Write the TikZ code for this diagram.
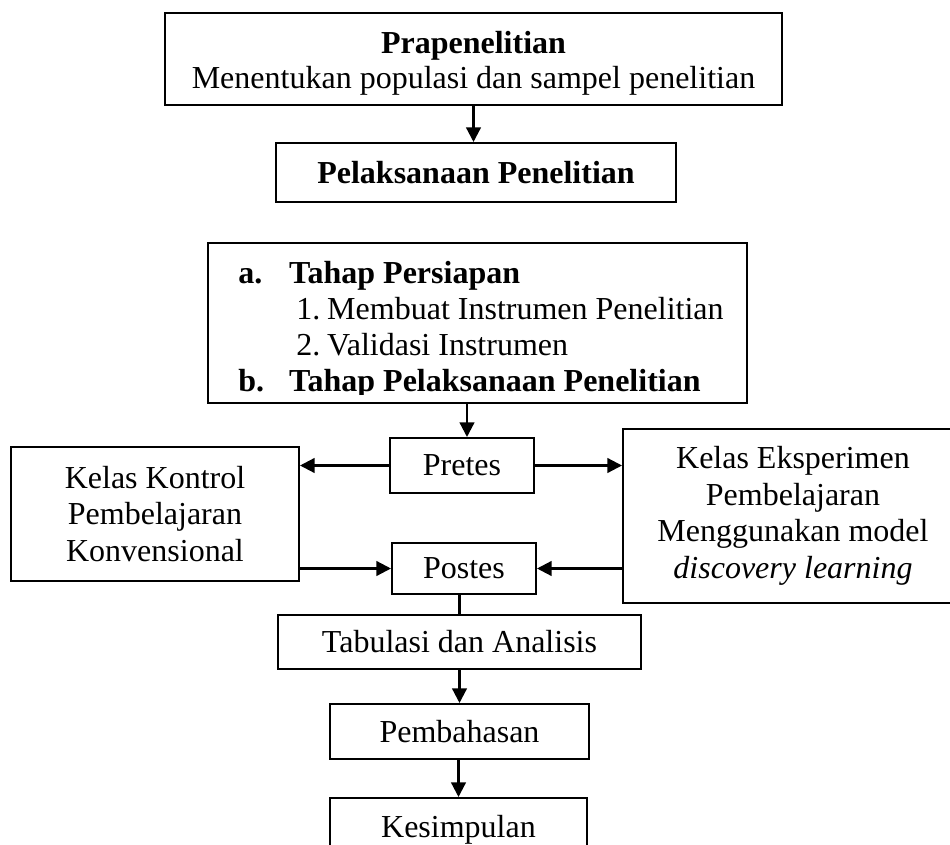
\documentclass[tikz,border=0pt]{standalone}
\usepackage{fontspec}
\setmainfont{Liberation Serif}
\usetikzlibrary{arrows.meta}
\tikzset{
  box/.style={draw=black, line width=1.5pt, rectangle, inner sep=0pt, align=center,
    font=\fontsize{24}{27.4}\selectfont},
  arr/.style={line width=1.7pt, -{Triangle[length=11pt,width=11pt]}},
  plain/.style={line width=1.7pt},
}
\begin{document}
\begin{tikzpicture}[x=0.75pt, y=-0.75pt]
\clip (0,0) rectangle (950,845);
% boxes (pixel coordinates of the reference)
\node[box, minimum width=617*0.75pt, minimum height=92*0.75pt,
      font=\fontsize{24}{26.3}\selectfont] (pra) at (473.5,59)
  {\rule{0pt}{22.5pt}\textbf{Prapenelitian}\\Menentukan populasi dan sampel penelitian};
\node[box, minimum width=400*0.75pt, minimum height=59*0.75pt] (pel) at (476,172.5)
  {\textbf{Pelaksanaan Penelitian}};
\node[box, minimum width=539*0.75pt, minimum height=160*0.75pt] (tahap) at (477.5,323) {};
\begin{scope}
  \clip (208,243) rectangle (747,394);
  \node[anchor=base west, inner sep=0pt, font=\fontsize{24}{27.2}\selectfont] (tahaptxt) at (238,283)
   {\vtop{%
     \hbox{\makebox[38.25pt][l]{\textbf{a.}}\textbf{Tahap Persiapan}}
     \hbox{\hspace{43.5pt}\makebox[23.25pt][l]{1.}Membuat Instrumen Penelitian}
     \hbox{\hspace{43.5pt}\makebox[23.25pt][l]{2.}Validasi Instrumen}
     \hbox{\makebox[38.25pt][l]{\textbf{b.}}\textbf{Tahap Pelaksanaan Penelitian}}}};
\end{scope}
\node[box, minimum width=144*0.75pt, minimum height=55*0.75pt] (pretes) at (462,465.5) {Pretes};
\node[box, minimum width=288*0.75pt, minimum height=134*0.75pt] (kontrol) at (155,514)
  {Kelas Kontrol\\Pembelajaran\\Konvensional};
\node[box, minimum width=340*0.75pt, minimum height=174*0.75pt] (eksp) at (793,516)
  {Kelas Eksperimen\\Pembelajaran\\Menggunakan model\\\textit{discovery learning}};
\node[box, minimum width=144*0.75pt, minimum height=51*0.75pt] (postes) at (464,568.5) {Postes};
\node[box, minimum width=363*0.75pt, minimum height=54*0.75pt] (tab) at (459.5,642) {Tabulasi dan Analisis};
\node[box, minimum width=259*0.75pt, minimum height=55*0.75pt] (pemb) at (459.5,731.5) {Pembahasan};
\node[box, minimum width=257*0.75pt, minimum height=80*0.75pt, anchor=north] (kes) at (458.5,797) {};
\node[anchor=base, inner sep=0pt, font=\fontsize{24}{27.4}\selectfont] (kestxt) at (458.5,837) {Kesimpulan};
% connectors
\coordinate (xa) at (467,0);
\draw[arr] (pra.south) -- (pra.south |- pel.north);
\draw[arr] (tahap.south -| xa) -- (pretes.north -| xa);
\draw[arr] (pretes.west) -- (kontrol.east |- pretes.west);
\draw[arr] (pretes.east) -- (eksp.west |- pretes.east);
\draw[arr] (kontrol.east |- postes.west) -- (postes.west);
\draw[arr] (eksp.west |- postes.east) -- (postes.east);
\draw[plain] (postes.south -| tab.north) -- (tab.north);
\draw[arr] (tab.south -| pemb.north) -- (pemb.north);
\draw[arr] (pemb.south -| kes.north) -- (kes.north);
\end{tikzpicture}
\end{document}
